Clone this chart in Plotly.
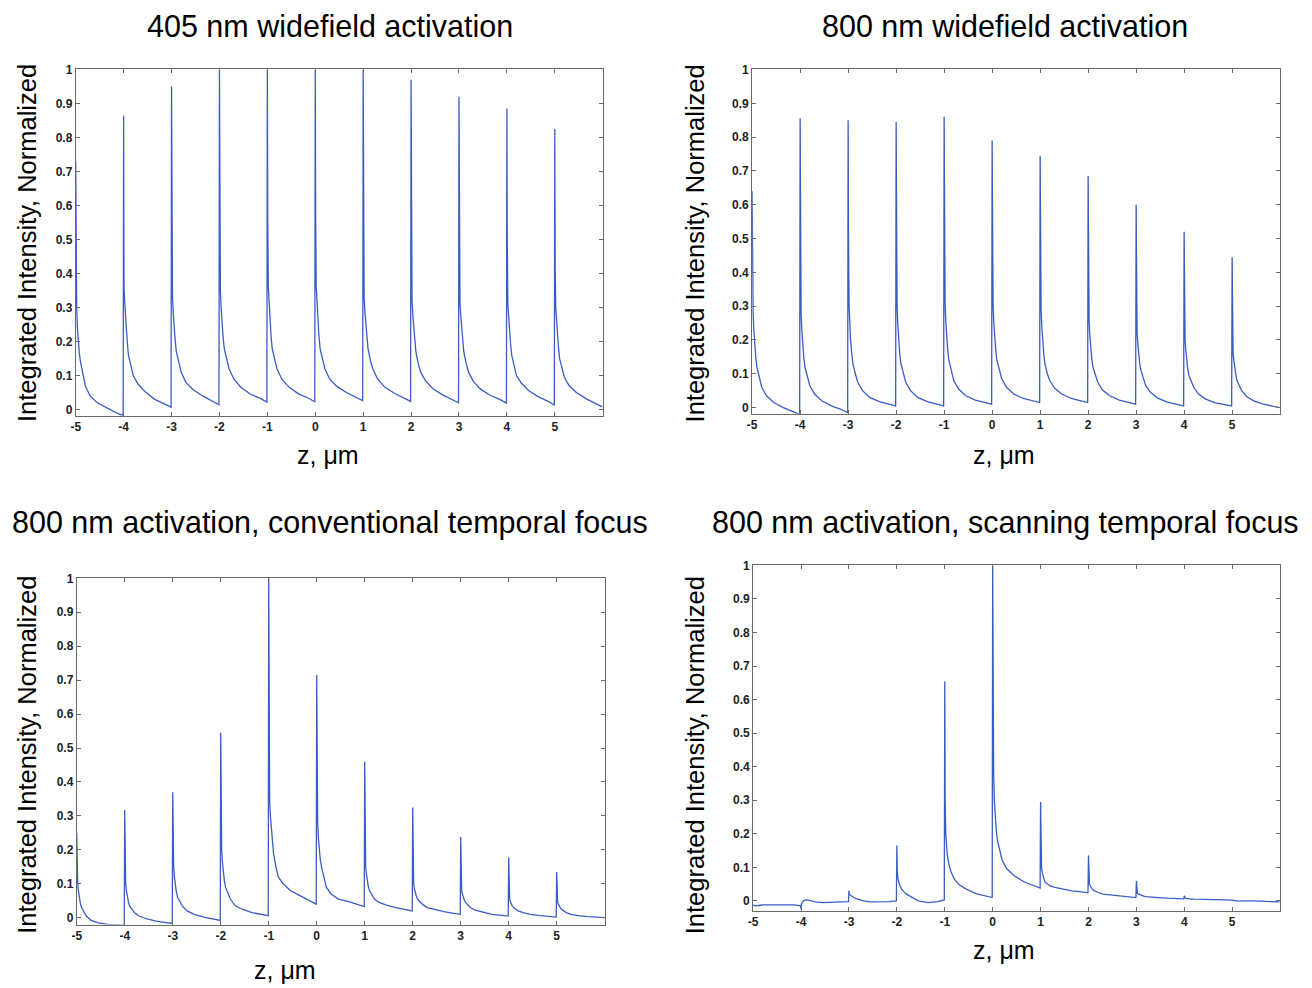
import plotly.graph_objects as go

W, H = 1312, 988

# ---------------- data ----------------
# each panel: one row per activation plane (z = -5 ... 5); values at the
# offsets (in um) after that plane
OFFSETS = [0, 0.008, 0.02, 0.035, 0.05, 0.075, 0.1, 0.15, 0.2, 0.3, 0.45, 0.65, 0.85, 0.99]
Z_STARTS = [-5, -4, -3, -2, -1, 0, 1, 2, 3, 4, 5]

P1_SEGMENTS = [  # 405 nm widefield activation
    [0.73, 0.42, 0.30, 0.24, 0.20, 0.165, 0.14, 0.10, 0.07, 0.04, 0.02, 0.005, -0.01, -0.018],
    [0.865, 0.36, 0.32, 0.28, 0.25, 0.20, 0.16, 0.125, 0.10, 0.075, 0.052, 0.03, 0.017, 0.007],
    [0.95, 0.545, 0.33, 0.285, 0.25, 0.205, 0.17, 0.135, 0.11, 0.08, 0.058, 0.04, 0.026, 0.014],
    [1.0, 0.56, 0.35, 0.30, 0.26, 0.215, 0.18, 0.145, 0.12, 0.09, 0.065, 0.045, 0.033, 0.022],
    [1.0, 0.57, 0.36, 0.31, 0.27, 0.22, 0.18, 0.145, 0.12, 0.09, 0.066, 0.046, 0.034, 0.023],
    [1.0, 0.57, 0.36, 0.31, 0.27, 0.22, 0.18, 0.145, 0.12, 0.09, 0.068, 0.05, 0.037, 0.026],
    [1.0, 0.41, 0.33, 0.29, 0.26, 0.215, 0.18, 0.145, 0.12, 0.09, 0.066, 0.048, 0.034, 0.024],
    [0.97, 0.40, 0.32, 0.28, 0.25, 0.205, 0.17, 0.135, 0.11, 0.085, 0.062, 0.044, 0.031, 0.02],
    [0.92, 0.52, 0.32, 0.28, 0.25, 0.205, 0.17, 0.135, 0.11, 0.083, 0.06, 0.042, 0.03, 0.019],
    [0.885, 0.50, 0.31, 0.27, 0.24, 0.195, 0.16, 0.125, 0.10, 0.078, 0.056, 0.038, 0.025, 0.013],
    [0.825, 0.42, 0.30, 0.26, 0.23, 0.185, 0.15, 0.12, 0.095, 0.07, 0.05, 0.032, 0.019, 0.008],
]

P2_SEGMENTS = [  # 800 nm widefield activation
    [0.64, 0.44, 0.28, 0.23, 0.19, 0.15, 0.12, 0.085, 0.06, 0.035, 0.015, 0.0, -0.012, -0.02],
    [0.856, 0.42, 0.28, 0.23, 0.19, 0.15, 0.12, 0.09, 0.065, 0.04, 0.02, 0.005, -0.005, -0.015],
    [0.85, 0.50, 0.30, 0.245, 0.20, 0.16, 0.13, 0.10, 0.075, 0.05, 0.03, 0.018, 0.01, 0.005],
    [0.845, 0.48, 0.30, 0.245, 0.20, 0.16, 0.13, 0.10, 0.075, 0.05, 0.03, 0.018, 0.01, 0.005],
    [0.86, 0.47, 0.31, 0.255, 0.21, 0.17, 0.14, 0.105, 0.08, 0.055, 0.035, 0.022, 0.015, 0.01],
    [0.79, 0.45, 0.30, 0.25, 0.21, 0.17, 0.14, 0.11, 0.085, 0.06, 0.04, 0.027, 0.02, 0.015],
    [0.745, 0.46, 0.29, 0.24, 0.20, 0.16, 0.13, 0.10, 0.08, 0.058, 0.04, 0.027, 0.02, 0.015],
    [0.685, 0.40, 0.26, 0.215, 0.18, 0.145, 0.12, 0.095, 0.075, 0.052, 0.035, 0.022, 0.015, 0.01],
    [0.60, 0.35, 0.22, 0.19, 0.16, 0.13, 0.11, 0.085, 0.065, 0.045, 0.028, 0.016, 0.009, 0.005],
    [0.52, 0.30, 0.20, 0.17, 0.14, 0.115, 0.095, 0.075, 0.06, 0.04, 0.025, 0.014, 0.008, 0.005],
    [0.445, 0.20, 0.16, 0.14, 0.12, 0.10, 0.08, 0.063, 0.05, 0.033, 0.02, 0.01, 0.004, 0.0],
]

P3_SEGMENTS = [  # 800 nm activation, conventional temporal focus
    [0.25, 0.14, 0.10, 0.08, 0.06, 0.043, 0.03, 0.015, 0.005, -0.008, -0.015, -0.02, -0.021, -0.022],
    [0.317, 0.14, 0.10, 0.08, 0.065, 0.048, 0.035, 0.023, 0.015, 0.005, -0.003, -0.01, -0.013, -0.017],
    [0.37, 0.22, 0.15, 0.12, 0.10, 0.077, 0.06, 0.045, 0.035, 0.02, 0.01, 0.002, -0.004, -0.008],
    [0.545, 0.32, 0.20, 0.165, 0.14, 0.11, 0.09, 0.07, 0.055, 0.035, 0.025, 0.015, 0.01, 0.006],
    [1.0, 0.42, 0.34, 0.30, 0.27, 0.225, 0.19, 0.15, 0.12, 0.10, 0.08, 0.065, 0.05, 0.04],
    [0.715, 0.41, 0.28, 0.235, 0.20, 0.17, 0.15, 0.115, 0.09, 0.07, 0.055, 0.048, 0.04, 0.033],
    [0.46, 0.20, 0.15, 0.13, 0.11, 0.092, 0.08, 0.065, 0.055, 0.045, 0.037, 0.03, 0.025, 0.02],
    [0.325, 0.13, 0.10, 0.085, 0.075, 0.064, 0.055, 0.046, 0.04, 0.03, 0.024, 0.018, 0.013, 0.01],
    [0.238, 0.10, 0.08, 0.07, 0.06, 0.052, 0.045, 0.036, 0.03, 0.022, 0.016, 0.01, 0.007, 0.005],
    [0.178, 0.07, 0.055, 0.047, 0.04, 0.035, 0.03, 0.024, 0.02, 0.015, 0.01, 0.006, 0.003, 0.002],
    [0.135, 0.06, 0.045, 0.04, 0.035, 0.03, 0.025, 0.019, 0.015, 0.01, 0.006, 0.003, 0.001, 0.0],
]

P4_SEGMENTS = [  # 800 nm activation, scanning temporal focus
    [-0.012, -0.013, -0.015, -0.015, -0.015, -0.014, -0.014, -0.013, -0.012, -0.012, -0.01, -0.01, -0.012, -0.015],
    [-0.025, -0.01, -0.005, -0.002, 0.0, 0.002, 0.003, 0.002, 0.0, -0.003, -0.005, -0.005, -0.003, -0.002],
    [0.03, 0.02, 0.018, 0.016, 0.015, 0.012, 0.01, 0.007, 0.005, 0.0, -0.003, -0.003, -0.002, 0.0],
    [0.165, 0.09, 0.07, 0.058, 0.05, 0.042, 0.035, 0.027, 0.02, 0.012, 0.0, -0.005, -0.002, 0.003],
    [0.655, 0.30, 0.20, 0.165, 0.14, 0.118, 0.10, 0.08, 0.065, 0.048, 0.035, 0.022, 0.014, 0.01],
    [1.0, 0.60, 0.38, 0.30, 0.25, 0.21, 0.18, 0.145, 0.12, 0.095, 0.075, 0.057, 0.047, 0.038],
    [0.295, 0.12, 0.10, 0.085, 0.075, 0.063, 0.055, 0.049, 0.045, 0.04, 0.036, 0.03, 0.027, 0.024],
    [0.135, 0.07, 0.05, 0.045, 0.04, 0.036, 0.032, 0.028, 0.025, 0.02, 0.018, 0.014, 0.012, 0.01],
    [0.06, 0.025, 0.022, 0.021, 0.02, 0.018, 0.016, 0.014, 0.013, 0.011, 0.01, 0.008, 0.007, 0.006],
    [0.015, 0.01, 0.008, 0.0075, 0.007, 0.0065, 0.006, 0.0055, 0.005, 0.005, 0.004, 0.003, 0.003, 0.002],
    [0.002, 0.001, 0.001, 0.0005, 0.0, 0.0, 0.0, -0.0005, -0.001, 0.0, 0.0, -0.001, -0.002, -0.003],
]

TITLES = [
    "405 nm widefield activation",
    "800 nm widefield activation",
    "800 nm activation, conventional temporal focus",
    "800 nm activation, scanning temporal focus",
]
Y_TITLE = "Integrated Intensity, Normalized"
X_TITLE = "z, \u03bcm"

X_TICKS = [-5, -4, -3, -2, -1, 0, 1, 2, 3, 4, 5]
Y_TICKS = [0, 0.1, 0.2, 0.3, 0.4, 0.5, 0.6, 0.7, 0.8, 0.9, 1]
Y_TICK_TEXT = ["0", "0.1", "0.2", "0.3", "0.4", "0.5", "0.6", "0.7", "0.8", "0.9", "1"]

# ---------------- layout (pixel boxes of the four axes) ----------------
PANELS = [
    dict(seg=P1_SEGMENTS, box=(71, 63, 600, 412), ymin=-0.018,
         title=(326, 19), ytitle=(22, 238), xtitle=(324, 452)),
    dict(seg=P2_SEGMENTS, box=(750, 63, 1280, 410), ymin=-0.018,
         title=(1004, 19), ytitle=(693, 238), xtitle=(1003, 452)),
    dict(seg=P3_SEGMENTS, box=(72, 576, 602, 925), ymin=-0.02,
         title=(326, 520), ytitle=(22, 754), xtitle=(281, 971)),
    dict(seg=P4_SEGMENTS, box=(751, 563, 1280, 911), ymin=-0.029,
         title=(1004, 520), ytitle=(693, 754), xtitle=(1003, 951)),
]

LINE_COLOR = "#3a5cc5"
AXIS_COLOR = "#6a6a6a"
FONT = "Liberation Sans, Arial, Helvetica, sans-serif"


def px(x):
    return x / W


def py(y):
    return 1 - y / H


fig = go.Figure()
annotations = []
layout_axes = {}

for i, p in enumerate(PANELS):
    n = i + 1
    xs, ys = [], []
    for z0, vals in zip(Z_STARTS, p["seg"]):
        for off, v in zip(OFFSETS, vals):
            xs.append(z0 + off)
            ys.append(v)
    xa = "x" if n == 1 else f"x{n}"
    ya = "y" if n == 1 else f"y{n}"
    fig.add_trace(go.Scatter(x=xs, y=ys, mode="lines", xaxis=xa, yaxis=ya,
                             line=dict(color=LINE_COLOR, width=1.3),
                             showlegend=False, hoverinfo="skip"))
    x0, y0, x1, y1 = p["box"]
    common = dict(showline=True, linecolor=AXIS_COLOR, linewidth=1,
                  mirror="allticks", ticks="inside", ticklen=4,
                  tickcolor=AXIS_COLOR, tickwidth=1, showgrid=False,
                  zeroline=False,
                  tickfont=dict(family=FONT, size=12, color="#222222",
                                weight="bold"))
    layout_axes["xaxis" if n == 1 else f"xaxis{n}"] = dict(
        domain=[px(x0), px(x1)], range=[-5, 6], anchor=ya,
        tickvals=X_TICKS, ticktext=[str(t) for t in X_TICKS], **common)
    layout_axes["yaxis" if n == 1 else f"yaxis{n}"] = dict(
        domain=[py(y1), py(y0)], range=[p["ymin"], 1.0], anchor=xa,
        tickvals=Y_TICKS, ticktext=Y_TICK_TEXT, **common)

    tx, ty = p["title"]
    annotations.append(dict(text=TITLES[i], x=px(tx), y=py(ty), xref="paper",
                            yref="paper", showarrow=False, xanchor="center",
                            yanchor="middle",
                            font=dict(family=FONT, size=30.5, color="black")))
    ax_, ay_ = p["ytitle"]
    annotations.append(dict(text=Y_TITLE, x=px(ax_), y=py(ay_), xref="paper",
                            yref="paper", showarrow=False, textangle=-90,
                            xanchor="center", yanchor="middle",
                            font=dict(family=FONT, size=25.5, color="black")))
    bx, by = p["xtitle"]
    annotations.append(dict(text=X_TITLE, x=px(bx), y=py(by), xref="paper",
                            yref="paper", showarrow=False, xanchor="center",
                            yanchor="middle",
                            font=dict(family=FONT, size=25, color="black")))

fig.update_layout(width=W, height=H, margin=dict(l=0, r=0, t=0, b=0),
                  paper_bgcolor="white", plot_bgcolor="white",
                  annotations=annotations, **layout_axes)

fig.write_html("out.html")
